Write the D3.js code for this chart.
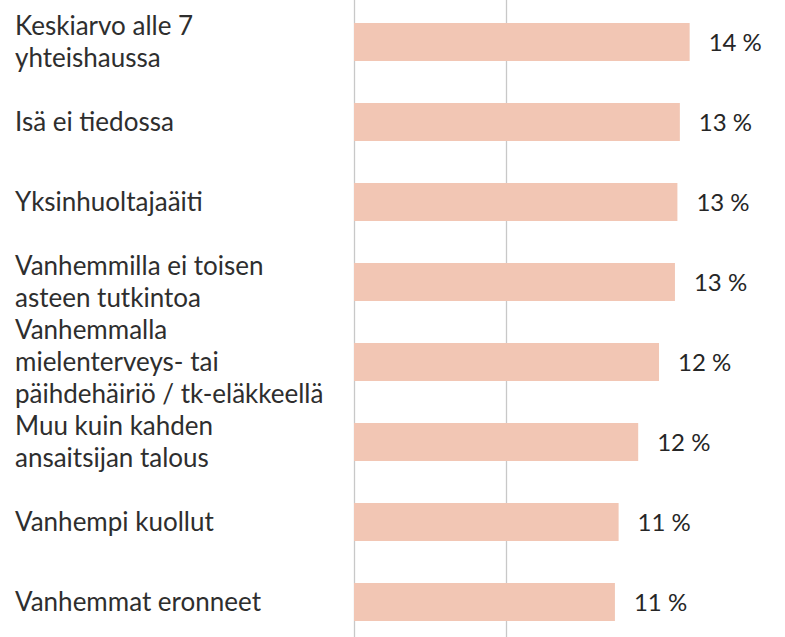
<!DOCTYPE html>
<html><head><meta charset="utf-8">
<script src="https://cdn.jsdelivr.net/npm/d3@7"></script>
<style>
html,body{margin:0;padding:0;background:#fff;}
svg{display:block;}
</style></head>
<body>
<svg id="chart" width="785" height="637"></svg>
<script>
const categories = [
  ["Keskiarvo alle 7", "yhteishaussa"],
  ["Isä ei tiedossa"],
  ["Yksinhuoltajaäiti"],
  ["Vanhemmilla ei toisen", "asteen tutkintoa"],
  ["Vanhemmalla", "mielenterveys- tai", "päihdehäiriö / tk-eläkkeellä"],
  ["Muu kuin kahden", "ansaitsijan talous"],
  ["Vanhempi kuollut"],
  ["Vanhemmat eronneet"]
];
const values = [13.7, 13.3, 13.2, 13.1, 12.45, 11.6, 10.8, 10.65];
const gridTicks = [0, 6.2];

const svg = d3.select("#chart");
const W = 785, H = 637;
const font = "Lato, 'Noto Sans', sans-serif";

const x = d3.scaleLinear().domain([0, 17]).range([354, 354 + 17 * 24.5]);
const y = d3.scaleBand().domain(d3.range(categories.length)).range([2, 642]).paddingInner(0.525).paddingOuter(0.2625);

svg.append("g").selectAll("line").data(gridTicks).join("line")
  .attr("x1", d => Math.round(x(d)) + 0.5).attr("x2", d => Math.round(x(d)) + 0.5)
  .attr("y1", 0).attr("y2", H)
  .attr("stroke", "#c8c8c8").attr("stroke-width", 1.3);

svg.append("g").selectAll("rect").data(values).join("rect")
  .attr("x", x(0)).attr("y", (d, i) => y(i))
  .attr("width", d => x(d) - x(0)).attr("height", y.bandwidth())
  .attr("fill", "#f2c6b4");

svg.append("g").selectAll("text").data(values).join("text")
  .attr("x", d => x(d) + 19).attr("y", (d, i) => y(i) + y.bandwidth() / 2)
  .attr("dy", "0.36em")
  .attr("font-family", font).attr("font-size", 24).attr("fill", "#262626")
  .text(d => Math.round(d) + " %");

const fs = 26, lh = 32;
const lab = svg.append("g").selectAll("text").data(categories).join("text")
  .attr("font-family", font).attr("font-size", fs).attr("fill", "#2e2e2e")
  .attr("y", (d, i) => y(i) + y.bandwidth() / 2);
lab.each(function(d) {
  const t = d3.select(this);
  const n = d.length;
  d.forEach((line, k) => {
    t.append("tspan").attr("x", 15)
      .attr("dy", k === 0 ? ((-(n - 1) / 2) * lh / fs + 0.36) + "em" : (lh / fs) + "em")
      .text(line);
  });
});
</script>
</body></html>
